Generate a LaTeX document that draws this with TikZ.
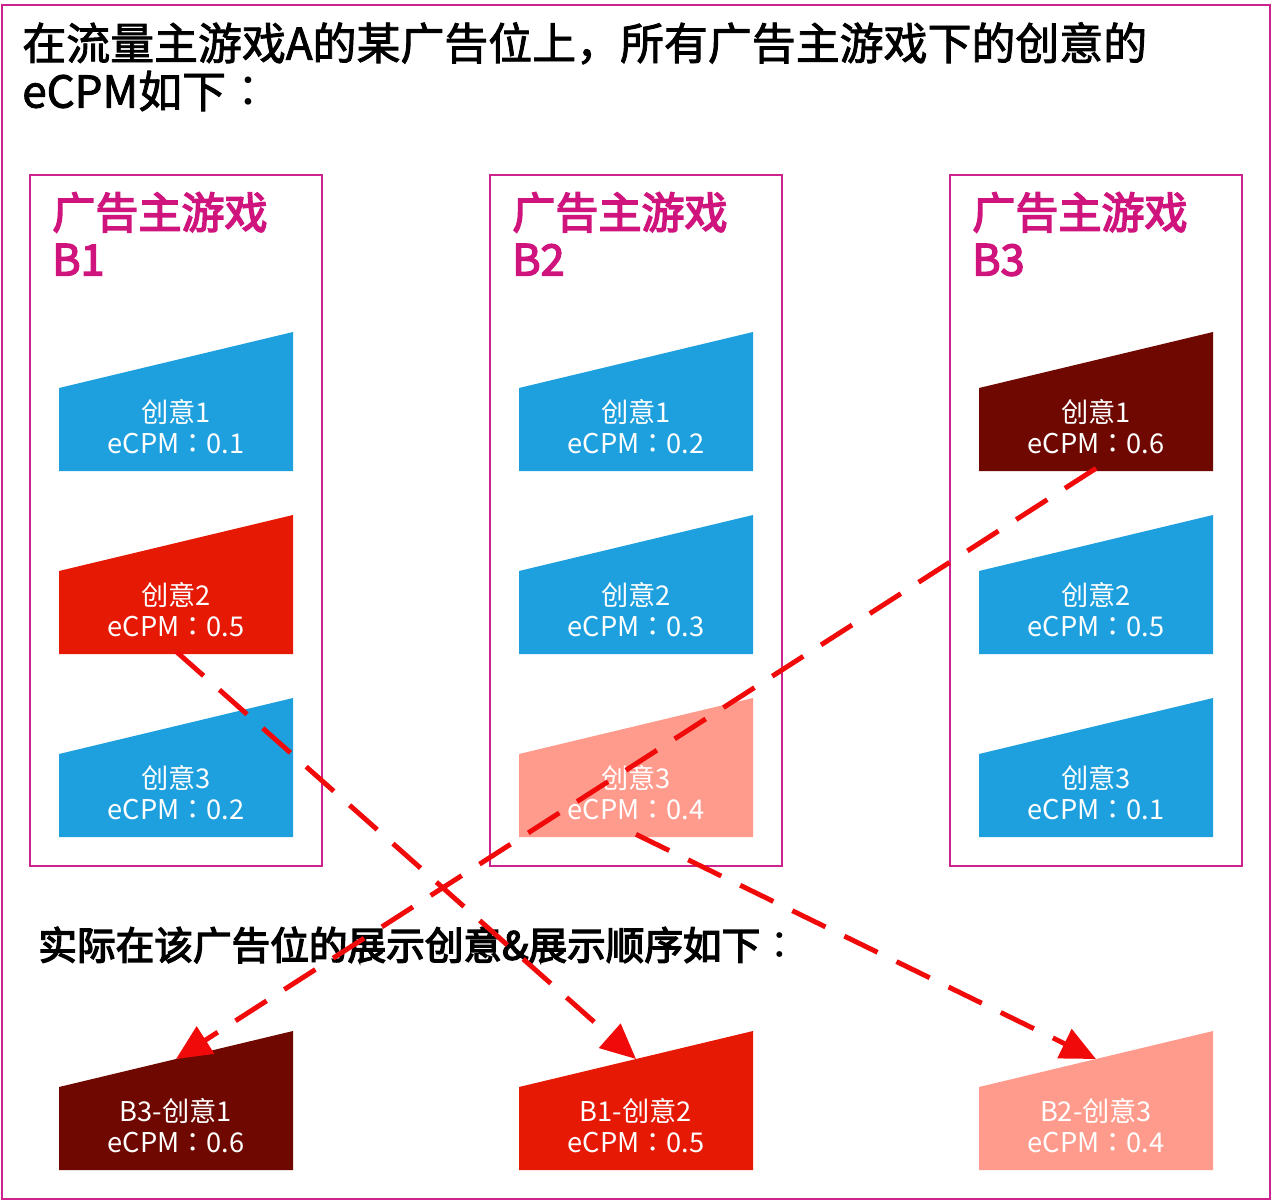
\documentclass[tikz,border=0pt]{standalone}
\usepackage{fontspec}
\setmainfont{Noto Sans CJK SC}
\newfontfamily\medfont{Noto Sans CJK SC}[FakeBold=3.5]
\newfontfamily\headfont{Noto Sans CJK SC}[FakeBold=2]
\newfontfamily\jpfont{Noto Sans CJK JP}
\usepackage{tikz}
\usetikzlibrary{arrows.meta,positioning,calc}

\definecolor{framemag}{RGB}{205,35,140}
\definecolor{titlemag}{RGB}{208,20,125}
\definecolor{adblue}{RGB}{30,160,222}
\definecolor{adred}{RGB}{230,25,5}
\definecolor{addark}{RGB}{110,8,0}
\definecolor{adsalmon}{RGB}{255,155,140}
\definecolor{flowred}{RGB}{240,10,10}

% centred full-width colon
\newcommand{\ccolon}{{\jpfont ：}}

% one creative card: name, left x, bottom y, colour, text
\newcommand{\creative}[5]{%
  \fill[#4] (#2,#3) -- ++(0,-83) -- ++(234,-56) -- ++(0,139) -- cycle;
  \node[cardtext] (#1) at ($(#2,#3)+(117,-41.5)$) {#5};
  \coordinate (#1-top) at ($(#2,#3)+(117,-111)$);
}

\begin{document}
\begin{tikzpicture}[
  x=0.02cm, y=-0.02cm,
  every node/.style={inner sep=0pt},
  grpbox/.style={draw=framemag, line width=1.1pt},
  grptitle/.style={anchor=north west, align=left, text=titlemag,
                   font=\fontsize{24.5}{26.7}\selectfont\medfont},
  cardtext/.style={minimum width=234*0.02cm, minimum height=83*0.02cm,
                   align=center, text=white, yshift=0.06cm,
                   font=\fontsize{15.5}{18}\selectfont},
  flow/.style={draw=flowred, line width=2.8pt, dash pattern=on 21pt off 12pt,
               -{Triangle[length=20pt,width=18pt]}}
]
\useasboundingbox (0,0) rectangle (1273,1202);
\draw[draw=framemag, line width=1.3pt] (2,5) rectangle (1270,1199);

\node[anchor=north west, align=left, font=\fontsize{25}{27.3}\selectfont\headfont]
  (head) at (22,22) {在流量主游戏A的某广告位上，所有广告主游戏下的创意的\\eCPM如下\ccolon};

% advertiser games
\draw[grpbox] (30,175) rectangle (322,866);
\draw[grpbox] (490,175) rectangle (782,866);
\draw[grpbox] (950,175) rectangle (1242,866);
\node[grptitle] (gameB1) at (52,192) {广告主游戏\\B1};
\node[grptitle] (gameB2) at (512,192) {广告主游戏\\B2};
\node[grptitle] (gameB3) at (972,192) {广告主游戏\\B3};

\creative{b1c1}{59}{471}{adblue}{创意1\\eCPM\ccolon 0.1}
\creative{b1c2}{59}{654}{adred}{创意2\\eCPM\ccolon 0.5}
\creative{b1c3}{59}{837}{adblue}{创意3\\eCPM\ccolon 0.2}
\creative{b2c1}{519}{471}{adblue}{创意1\\eCPM\ccolon 0.2}
\creative{b2c2}{519}{654}{adblue}{创意2\\eCPM\ccolon 0.3}
\creative{b2c3}{519}{837}{adsalmon}{创意3\\eCPM\ccolon 0.4}
\creative{b3c1}{979}{471}{addark}{创意1\\eCPM\ccolon 0.6}
\creative{b3c2}{979}{654}{adblue}{创意2\\eCPM\ccolon 0.5}
\creative{b3c3}{979}{837}{adblue}{创意3\\eCPM\ccolon 0.1}

\node[anchor=west, font=\fontsize{22}{26}\selectfont\medfont]
  (order) at (38,945) {实际在该广告位的展示创意\&展示顺序如下\ccolon};

% shown order
\creative{show1}{59}{1170}{addark}{B3-创意1\\eCPM\ccolon 0.6}
\creative{show2}{519}{1170}{adred}{B1-创意2\\eCPM\ccolon 0.5}
\creative{show3}{979}{1170}{adsalmon}{B2-创意3\\eCPM\ccolon 0.4}

\draw[flow] (b1c2.south) -- (show2-top);
\draw[flow] (b2c3.south) -- (show3-top);
\draw[flow] (b3c1.south) -- (show1-top);
\end{tikzpicture}
\end{document}
